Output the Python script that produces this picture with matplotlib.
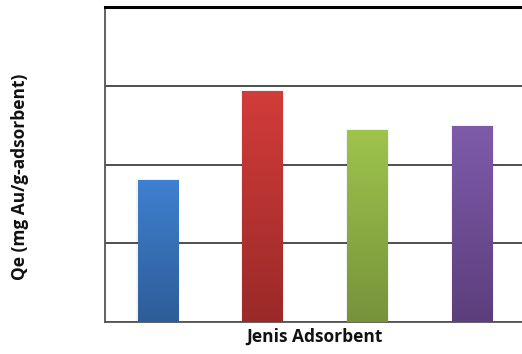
import numpy as np
import matplotlib
matplotlib.use('Agg')
import matplotlib.pyplot as plt
from matplotlib.colors import LinearSegmentedColormap

# ── data ──
adsorbents = ['A', 'B', 'C', 'D']
qe_values = [1.80, 2.93, 2.44, 2.49]
top_colors = ['#3f80d0', '#d23c3a', '#9fc44c', '#7f5bab']
bottom_colors = ['#2d5d98', '#9a2a28', '#76933a', '#5c3e7c']
y_ticks = [0, 1, 2, 3, 4]

fig = plt.figure(figsize=(5.22, 3.54), dpi=100, facecolor='white')
ax = fig.add_axes([105 / 522, 32 / 354, 420 / 522, 315 / 354])

x = np.arange(len(adsorbents))
bars = ax.bar(x, qe_values, width=0.39, color='none', edgecolor='none', zorder=3)

# vertical gradient fill per bar, clipped to the bar rectangle
grad = np.linspace(1, 0, 256).reshape(-1, 1)
for bar, c_top, c_bot in zip(bars, top_colors, bottom_colors):
    cmap = LinearSegmentedColormap.from_list('g', [c_bot, c_top])
    x0, y0 = bar.get_x(), bar.get_y()
    w, h = bar.get_width(), bar.get_height()
    # faint shadow halo
    ax.bar(x0 + w / 2, h + 0.01, width=w + 0.02, color='#0000000c',
           edgecolor='none', zorder=2)
    im = ax.imshow(grad[::-1], cmap=cmap, aspect='auto',
                   extent=[x0, x0 + w, y0, y0 + h], origin='lower', zorder=3)
    im.set_clip_path(bar)

ax.set_xlim(-0.505, 3.5)
ax.set_ylim(y_ticks[0], y_ticks[-1])
ax.set_yticks(y_ticks)
ax.set_xticks([])
ax.tick_params(axis='y', length=0, labelleft=False)
ax.grid(axis='y', color='#404040', lw=1.3, zorder=1)
ax.set_axisbelow(True)

for side in ('left', 'bottom'):
    ax.spines[side].set_color('#555555')
    ax.spines[side].set_linewidth(1.3)
ax.spines['top'].set_color('black')
ax.spines['top'].set_linewidth(2.2)
ax.spines['right'].set_visible(False)

fig.text(314 / 522, 1 - 337 / 354, 'Jenis Adsorbent', ha='center', va='center',
         fontsize=12.5, fontweight='bold', family='Open Sans', color='#111111')
fig.text(20 / 522, 1 - 177 / 354, 'Qe (mg Au/g-adsorbent)', ha='center',
         va='center', rotation=90, fontsize=12.5, fontweight='bold',
         family='Open Sans', color='#111111')

fig.savefig('out.png', dpi=100, facecolor='white')
